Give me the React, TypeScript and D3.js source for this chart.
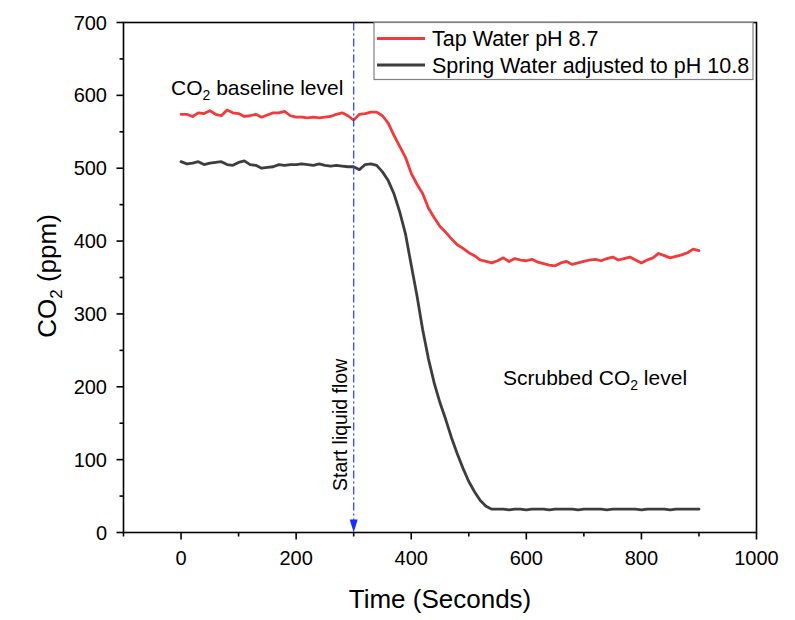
import React from "react";
import * as d3 from "d3";

const times = [0,10,20,30,40,50,60,70,80,90,100,110,120,130,140,150,160,170,180,190,200,210,220,230,240,250,260,270,280,290,300,310,320,330,340,350,360,370,380,390,400,410,420,430,440,450,460,470,480,490,500,510,520,530,540,550,560,570,580,590,600,610,620,630,640,650,660,670,680,690,700,710,720,730,740,750,760,770,780,790,800,810,820,830,840,850,860,870,880,890,900];

const tapWater = [574,574,571,576,575,579,574,572,580,576,575,571,572,574,570,573,576,576,578,572,570,570,569,570,569,570,571,574,576,572,566,574,575,577,577,572,562,545,530,515,493,478,465,445,432,420,412,403,395,390,384,380,374,372,370,373,377,372,376,374,373,375,371,369,367,366,370,372,368,370,372,374,375,373,376,378,374,376,378,374,370,374,377,383,380,377,379,381,384,389,387];

const springWater = [509,506,507,509,505,507,508,509,505,504,508,510,505,504,500,501,502,505,504,505,505,506,505,504,506,504,503,504,503,502,502,498,505,506,504,495,483,465,440,410,367,325,278,238,205,178,155,130,108,88,70,56,44,36,32,32,32,31,32,32,31,32,32,32,31,32,32,32,32,31,32,32,32,32,31,32,32,32,32,32,31,32,32,32,32,31,32,32,32,32,32];

const xTicks = [0,200,400,600,800,1000];
const xMinor = [-100,100,300,500,700,900];
const yTicks = [0,100,200,300,400,500,600,700];
const yMinor = [50,150,250,350,450,550,650];
const flowStart = 300;

const seriesList = [
  { name: "Tap Water pH 8.7", values: tapWater, color: "#f23a3a" },
  { name: "Spring Water adjusted to pH 10.8", values: springWater, color: "#3d3d3d" },
];

const FONT = "Liberation Sans, Arial, sans-serif";

export default function App() {
  const W = 795, H = 620;
  const left = 123.5, right = 756.5, top = 22.5, bottom = 532.5;
  const x = d3.scaleLinear().domain([-100, 1000]).range([left, right]);
  const y = d3.scaleLinear().domain([0, 700]).range([bottom, top]);

  const line = d3.line<number>()
    .x((_, i) => x(times[i]))
    .y((v) => y(v));

  const fx = x(flowStart);

  return (
    <svg width={W} height={H} style={{ position: "absolute", left: 0, top: 0, background: "#fff" }} fontFamily={FONT}>
      <rect x={0} y={0} width={W} height={H} fill="#fff" />
      {seriesList.map((s) => (
        <path key={s.name} d={line(s.values) || ""} fill="none" stroke={s.color} strokeWidth={2.8} strokeLinejoin="round" strokeLinecap="round" />
      ))}

      <line x1={fx} x2={fx} y1={top} y2={bottom - 12} stroke="#3344ff" strokeWidth={1.3} strokeDasharray="8,3,2,3" />
      <path d={`M${fx - 4},${bottom - 13} L${fx + 4},${bottom - 13} L${fx},${bottom} Z`} fill="#1a2cff" />

      <rect x={left} y={top} width={right - left} height={bottom - top} fill="none" stroke="#000" strokeWidth={1.6} />

      {xTicks.map((t) => (
        <g key={"xt" + t}>
          <line x1={x(t)} x2={x(t)} y1={bottom} y2={bottom + 7} stroke="#000" strokeWidth={1.6} />
          <text x={x(t)} y={565} fontSize={20} textAnchor="middle" fill="#000">{t}</text>
        </g>
      ))}
      {xMinor.map((t) => (
        <line key={"xm" + t} x1={x(t)} x2={x(t)} y1={bottom} y2={bottom + 4} stroke="#000" strokeWidth={1.6} />
      ))}
      {yTicks.map((t) => (
        <g key={"yt" + t}>
          <line x1={left - 7} x2={left} y1={y(t)} y2={y(t)} stroke="#000" strokeWidth={1.6} />
          <text x={107} y={y(t) + 7} fontSize={20} textAnchor="end" fill="#000">{t}</text>
        </g>
      ))}
      {yMinor.map((t) => (
        <line key={"ym" + t} x1={left - 4} x2={left} y1={y(t)} y2={y(t)} stroke="#000" strokeWidth={1.6} />
      ))}

      <text x={(left + right) / 2} y={608} fontSize={26} textAnchor="middle" fill="#000">Time (Seconds)</text>
      <text transform={`translate(56,276) rotate(-90)`} fontSize={26} textAnchor="middle" fill="#000">
        CO<tspan fontSize={17} dy={6}>2</tspan><tspan dy={-6}> (ppm)</tspan>
      </text>

      <text x={171} y={95} fontSize={21} fill="#000">
        CO<tspan fontSize={14} dy={5}>2</tspan><tspan dy={-5}> baseline level</tspan>
      </text>
      <text x={503} y={385} fontSize={21} fill="#000">
        Scrubbed CO<tspan fontSize={14} dy={5}>2</tspan><tspan dy={-5}> level</tspan>
      </text>
      <text transform={`translate(347,491) rotate(-90)`} fontSize={19.5} fill="#000">Start liquid flow</text>

      <rect x={374} y={top} width={379} height={57} fill="#fff" stroke="#808080" strokeWidth={1.2} />
      {seriesList.map((s, i) => (
        <g key={"lg" + i}>
          <line x1={377} x2={425} y1={38.5 + i * 26.5} y2={38.5 + i * 26.5} stroke={s.color} strokeWidth={2.8} />
          <text x={432} y={46 + i * 26.5} fontSize={21.5} fill="#000">{s.name}</text>
        </g>
      ))}
    </svg>
  );
}
